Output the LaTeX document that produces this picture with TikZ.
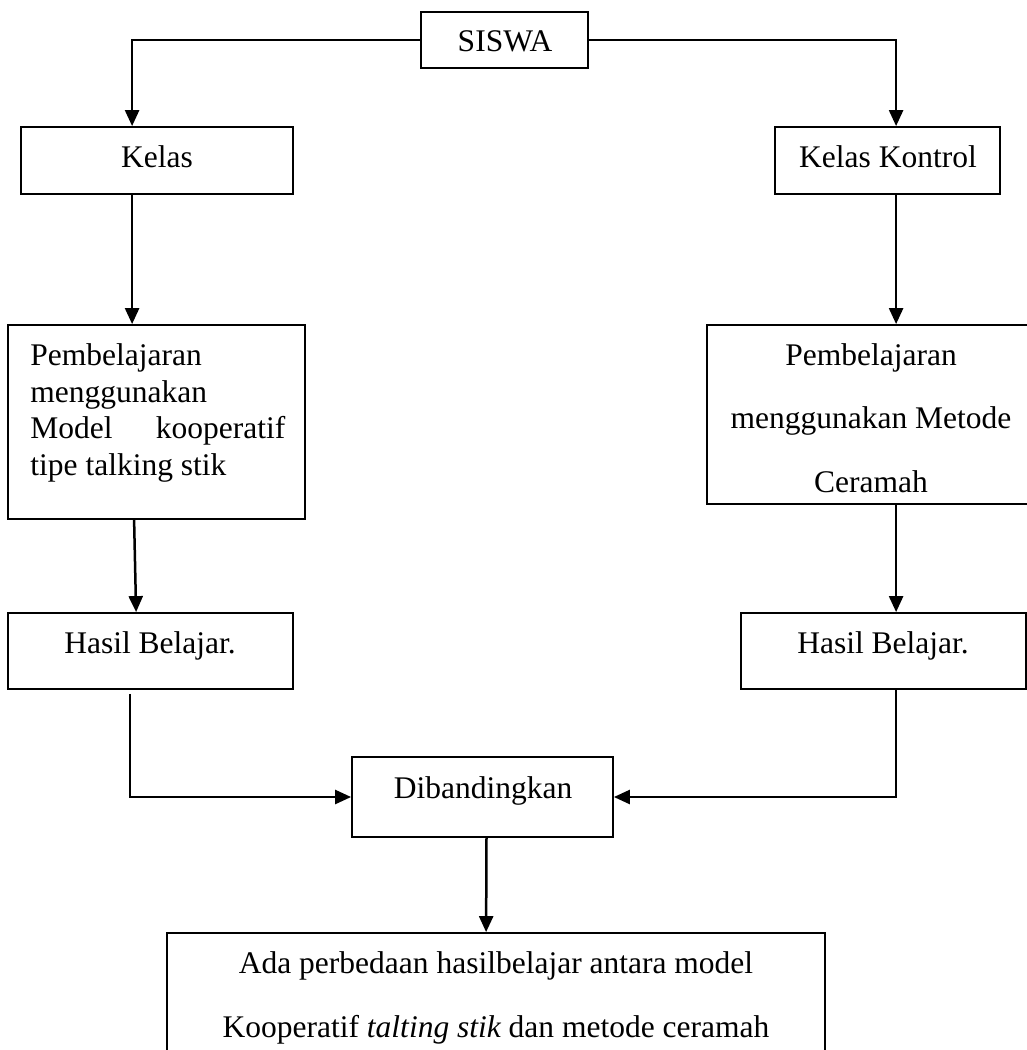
\documentclass[tikz,border=0pt]{standalone}
\usepackage{fontspec}
\setmainfont{Liberation Serif}
\usetikzlibrary{arrows.meta, calc, fit}

\begin{document}
\begin{tikzpicture}[x=0.5pt, y=-0.5pt]
    \tikzset{box/.style={draw, line width=0.9pt, inner sep=0pt},
             txt/.style={anchor=base, inner sep=0pt, font=\fontsize{15.75}{18}\selectfont},
             arr/.style={-{Triangle[length=8pt,width=7pt]}, line width=1.25pt}}
    \useasboundingbox (0,0) rectangle (1027,1050);
    \node[box, fit={(421,12) (588,68)}] (S) {};
    \node[box, fit={(21,127) (293,194)}] (K1) {};
    \node[box, fit={(775,127) (1000,194)}] (K2) {};
    \node[box, fit={(8,325) (305,519)}] (P1) {};
    \node[box, fit={(707,325) (1035,504)}] (P2) {};
    \node[box, fit={(8,613) (293,689)}] (H1) {};
    \node[box, fit={(741,613) (1026,689)}] (H2) {};
    \node[box, fit={(352,757) (613,837)}] (D) {};
    \node[box, fit={(167,933) (825,1064)}] (A) {};
    \node[txt] (tS) at (505,51) {SISWA};
    \node[txt] (tK1) at (157,167) {Kelas};
    \node[txt] (tK2) at (888,167) {Kelas Kontrol};
    \node[txt, anchor=base west] (tP1a) at (30,365) {Pembelajaran};
    \node[txt, anchor=base west] (tP1b) at (30,402) {menggunakan};
    \node[txt, anchor=base west] (tP1c) at (30,438) {\hbox to 127.5pt{Model\hfil kooperatif}};
    \node[txt, anchor=base west] (tP1d) at (30,475) {tipe talking stik};
    \node[txt] (tP2a) at (871,365) {Pembelajaran};
    \node[txt] (tP2b) at (871,428) {menggunakan Metode};
    \node[txt] (tP2c) at (871,492) {Ceramah};
    \node[txt] (tH1) at (150,653) {Hasil Belajar.};
    \node[txt] (tH2) at (883,653) {Hasil Belajar.};
    \node[txt] (tD) at (483,798) {Dibandingkan};
    \node[txt] (tAa) at (496,973) {Ada perbedaan hasilbelajar antara model};
    \node[txt] (tAb) at (496,1037) {Kooperatif {\itshape talting stik} dan metode ceramah};
    \draw[arr] (S.west) -| ($(K1.north west)+(112,0)$);
    \draw[arr] (S.east) -| ($(K2.north west)+(122,0)$);
    \draw[arr] ($(K1.south west)+(112,0)$) -- ($(P1.north west)+(125,0)$);
    \draw[arr] ($(K2.south west)+(122,0)$) -- ($(P2.north west)+(190,0)$);
    \draw[arr] ($(P1.south west)+(127,0)$) -- ($(H1.north west)+(129,0)$);
    \draw[arr] ($(P2.south west)+(190,0)$) -- ($(H2.north west)+(156,0)$);
    \draw[arr] ($(H1.south west)+(123,4)$) |- (D.west);
    \draw[arr] ($(H2.south west)+(156,0)$) |- (D.east);
    \draw[arr] ($(D.south)+(4,0)$) -- ($(A.north west)+(320,0)$);
\end{tikzpicture}
\end{document}
